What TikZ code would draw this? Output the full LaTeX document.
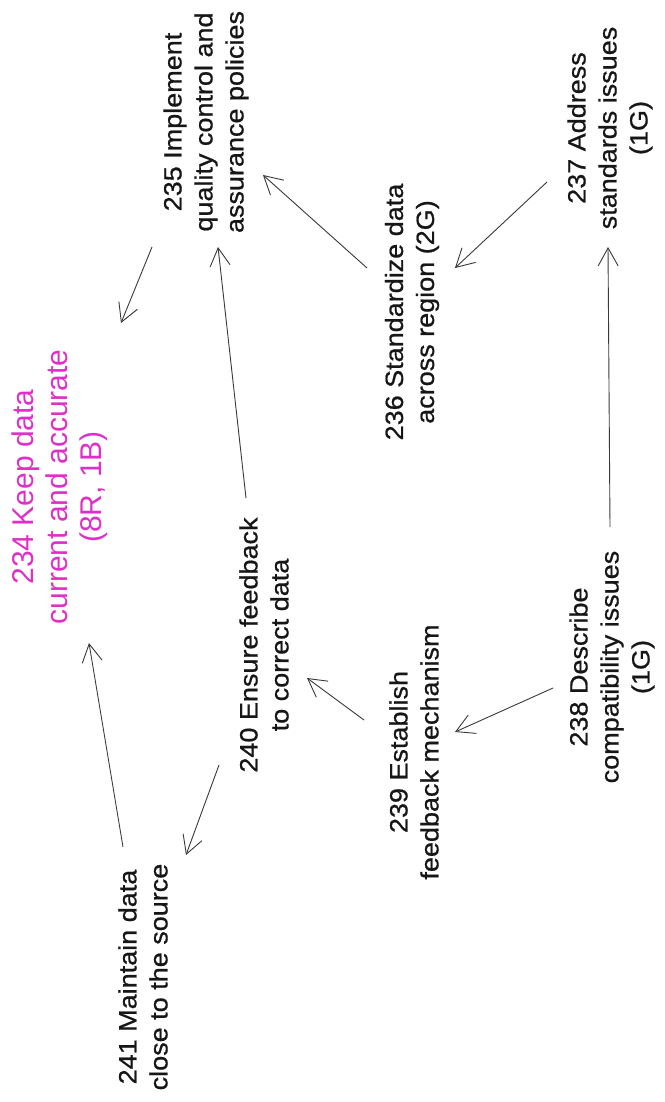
\documentclass[tikz,border=0pt]{standalone}
\usepackage{fontspec}
\setmainfont{Liberation Sans}
\newfontfamily\inkfont[FakeBold=0.7]{Liberation Sans}
\usetikzlibrary{arrows.meta,calc}
\definecolor{mag}{RGB}{222,48,200}
\definecolor{ink}{RGB}{22,22,22}
\begin{document}
\begin{tikzpicture}[x=1pt,y=-1pt,
  lab/.style={rotate=90, xscale=1.08, align=center, inner sep=0pt, text=ink,
    font=\inkfont\fontsize{25}{31}\selectfont},
  hl/.style={rotate=90, align=center, inner sep=0pt, text=mag,
    font=\fontsize{30}{34}\selectfont},
  arr/.style={draw=ink!85, line width=0.9pt,
    -{Straight Barb[length=18pt,width=20pt,line width=0.9pt]}}]
\fill[white] (0,0) rectangle (664,1102);
\useasboundingbox (0,0) rectangle (664,1102);

\node[hl]  (n234) at (60,487)  {234 Keep data\\current and accurate\\(8R, 1B)};
\node[lab] (n235) at (206,122) {235 Implement\\quality control and\\assurance policies};
\node[lab] (n236) at (412,312) {236 Standardize data\\across region (2G)};
\node[lab] (n237) at (610,128) {237 Address\\standards issues\\(1G)};
\node[lab] (n238) at (612,667) {238 Describe\\compatibility issues\\(1G)};
\node[lab] (n239) at (414,752) {239 Establish\\feedback mechanism};
\node[lab] (n240) at (264,645) {240 Ensure feedback\\to correct data};
\node[lab] (n241) at (143,977) {241 Maintain data\\close to the source};

\draw[arr] ($(n235)+(-54,125)$) -- ($(n234)+(61,-164)$);
\draw[arr] ($(n240)+(-18,-147)$) -- ($(n235)+(12,125)$);
\draw[arr] ($(n236)+(-45,-44)$) -- ($(n235)+(57,53)$);
\draw[arr] ($(n237)+(-63,54)$) -- ($(n236)+(43,-44)$);
\draw[arr] ($(n238)+(-2,-140)$) -- ($(n237)+(-2,119)$);
\draw[arr] ($(n238)+(-59,21)$) -- ($(n239)+(41,-20)$);
\draw[arr] ($(n239)+(-50,-32)$) -- ($(n240)+(43,33)$);
\draw[arr] ($(n240)+(-45,120)$) -- ($(n241)+(43,-122)$);
\draw[arr] ($(n241)+(-20,-130)$) -- ($(n234)+(29,156)$);
\end{tikzpicture}
\end{document}
